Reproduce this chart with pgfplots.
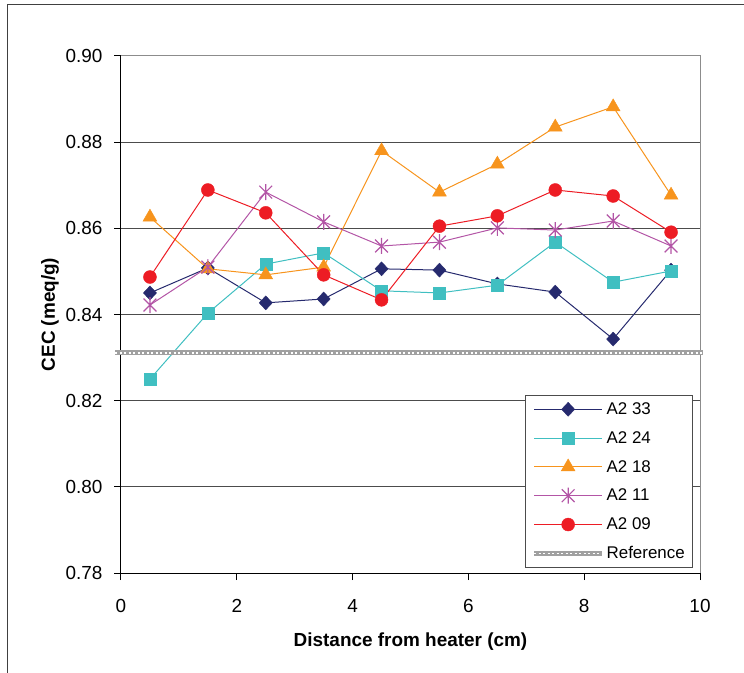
\documentclass[border=0pt]{standalone}
\usepackage{pgfplots}
\pgfplotsset{compat=1.18}
\usepackage{fontspec}
\setmainfont{Liberation Sans}
\definecolor{cnavy}{HTML}{262A6E}
\definecolor{cteal}{HTML}{40BFC1}
\definecolor{corange}{HTML}{F7941D}
\definecolor{cpurple}{HTML}{B355A6}
\definecolor{cred}{HTML}{ED1C24}
\definecolor{cref}{HTML}{A0A0A0}
\pgfdeclareplotmark{xstar}{%
  \pgfpathmoveto{\pgfqpoint{-0.8\pgfplotmarksize}{-0.8\pgfplotmarksize}}%
  \pgfpathlineto{\pgfqpoint{0.8\pgfplotmarksize}{0.8\pgfplotmarksize}}%
  \pgfpathmoveto{\pgfqpoint{-0.8\pgfplotmarksize}{0.8\pgfplotmarksize}}%
  \pgfpathlineto{\pgfqpoint{0.8\pgfplotmarksize}{-0.8\pgfplotmarksize}}%
  \pgfpathmoveto{\pgfqpoint{0pt}{-\pgfplotmarksize}}%
  \pgfpathlineto{\pgfqpoint{0pt}{\pgfplotmarksize}}%
  \pgfusepathqstroke}
\begin{document}
\begin{tikzpicture}[x=1bp,y=1bp]
\useasboundingbox (-121,-100) rectangle (623,573);
\draw[black!75, line width=1bp] (-113,-100) -- (-113,568) -- (623,568);
\begin{axis}[
  at={(0,0)}, anchor=south west,
  width=579bp, height=517bp, scale only axis,
  xmin=0, xmax=10, ymin=0.78, ymax=0.90,
  xtick={0,2,4,6,8,10},
  ytick={0.78,0.80,0.82,0.84,0.86,0.88,0.90},
  axis x line*=bottom, axis y line*=left,
  axis line style={black, line width=1bp},
  tick align=outside, major tick length=7bp,
  tick style={black, line width=1bp},
  ymajorgrids, grid style={black!70, line width=1bp},
  /pgf/number format/assume math mode=true,
  yticklabel style={/pgf/number format/fixed, /pgf/number format/fixed zerofill, /pgf/number format/precision=2, xshift=-8bp},
  tick label style={font=\fontsize{19}{22}\selectfont},
  xticklabel style={yshift=-16bp},
  xlabel={\textbf{Distance from heater (cm)}},
  ylabel={\textbf{CEC (meq/g)}},
  label style={font=\fontsize{19}{22}\selectfont},
  xlabel style={at={(rel axis cs:0.5,0)}, anchor=center, yshift=-69bp},
  ylabel style={at={(rel axis cs:0,0.5)}, anchor=center, yshift=71bp},
  clip=false,
  legend cell align=left,
  legend image code/.code={\draw[mark repeat=2,mark phase=2,#1] plot coordinates {(0bp,0bp) (34bp,0bp) (68bp,0bp)};},
  legend style={at={(rel axis cs:0.698,0.344)}, anchor=north west,
    draw=black!70, line width=1bp, fill=white,
    font=\fontsize{17}{20}\selectfont, row sep=11.5bp,
    inner xsep=6bp, inner ysep=5bp},
]
\draw[black!45, line width=1bp] (rel axis cs:0,1) -- (rel axis cs:1,1) -- (rel axis cs:1,0);
\addplot[color=cnavy, line width=1bp, mark=diamond*, mark size=7bp,
  mark options={solid, fill=cnavy, draw=cnavy, line width=0.4bp, xscale=1.25}]
  coordinates {(0.5,0.8450) (1.5,0.8508) (2.5,0.8427) (3.5,0.8436) (4.5,0.8506)
               (5.5,0.8503) (6.5,0.8471) (7.5,0.8452) (8.5,0.8343) (9.5,0.8503)};
\addlegendentry{A2 33}
\addplot[color=cteal, line width=1bp, mark=square*, mark size=6bp,
  mark options={solid, fill=cteal, draw=cteal, line width=0.4bp}]
  coordinates {(0.5,0.8250) (1.5,0.8403) (2.5,0.8517) (3.5,0.8543) (4.5,0.8455)
               (5.5,0.8450) (6.5,0.8468) (7.5,0.8568) (8.5,0.8475) (9.5,0.8501)};
\addlegendentry{A2 24}
\addplot[color=corange, line width=1bp, mark=triangle*, mark size=8bp,
  mark options={solid, fill=corange, draw=corange, line width=0.4bp}]
  coordinates {(0.5,0.8626) (1.5,0.8506) (2.5,0.8492) (3.5,0.8510) (4.5,0.8780)
               (5.5,0.8684) (6.5,0.8749) (7.5,0.8835) (8.5,0.8882) (9.5,0.8677)};
\addlegendentry{A2 18}
\addplot[color=cpurple, line width=1bp, mark=xstar, mark size=8bp,
  mark options={solid, draw=cpurple, line width=1.2bp}]
  coordinates {(0.5,0.8422) (1.5,0.8510) (2.5,0.8684) (3.5,0.8615) (4.5,0.8559)
               (5.5,0.8568) (6.5,0.8601) (7.5,0.8596) (8.5,0.8617) (9.5,0.8559)};
\addlegendentry{A2 11}
\addplot[color=cred, line width=1bp, mark=*, mark size=6.5bp,
  mark options={solid, fill=cred, draw=cred, line width=0.4bp}]
  coordinates {(0.5,0.8487) (1.5,0.8689) (2.5,0.8636) (3.5,0.8492) (4.5,0.8434)
               (5.5,0.8605) (6.5,0.8629) (7.5,0.8689) (8.5,0.8675) (9.5,0.8591)};
\addlegendentry{A2 09}
\addplot[color=cref, line width=5bp,
  postaction={draw, white, line width=1.5bp, dash pattern=on 2bp off 2.5bp}]
  coordinates {(-0.1,0.8311) (10.05,0.8311)};
\addlegendentry{Reference}
\end{axis}
\end{tikzpicture}
\end{document}
